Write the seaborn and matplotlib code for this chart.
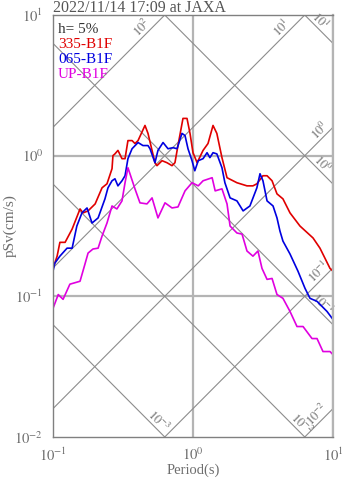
import numpy as np
import pandas as pd
import matplotlib
matplotlib.use("Agg")
import matplotlib.pyplot as plt
import seaborn as sns
from matplotlib.ticker import LogLocator, FixedLocator, NullFormatter

# ---- pseudo-velocity response spectra (h = 5%) ----
period_335 = [0.100, 0.107, 0.112, 0.122, 0.137, 0.156, 0.164, 0.178, 0.200, 0.224,
              0.243, 0.264, 0.268, 0.277, 0.291, 0.311, 0.327, 0.343, 0.367, 0.385,
              0.405, 0.454, 0.477, 0.535, 0.553, 0.601, 0.652, 0.708, 0.743, 0.781,
              0.848, 0.906, 0.952, 1.00, 1.07, 1.18, 1.28, 1.39, 1.48, 1.61,
              1.75, 2.06, 2.43, 2.68, 2.86, 3.16, 3.38, 3.67, 3.98, 4.39,
              4.93, 5.81, 7.20, 8.07, 9.52, 10.0]
sv_335 = [0.158, 0.193, 0.242, 0.242, 0.301, 0.418, 0.392, 0.405, 0.454, 0.591,
          0.631, 0.808, 1.00, 1.03, 1.09, 0.952, 0.952, 1.28, 1.28, 1.22,
          1.28, 1.64, 1.44, 0.891, 0.849, 0.921, 0.891, 0.849, 0.891, 1.18,
          1.84, 1.84, 1.44, 1.05, 0.891, 1.09, 1.22, 1.64, 1.44, 0.968,
          0.697, 0.642, 0.610, 0.610, 0.631, 0.720, 0.720, 0.663, 0.535, 0.493,
          0.392, 0.316, 0.260, 0.220, 0.158, 0.151]

period_065 = [0.100, 0.103, 0.112, 0.126, 0.137, 0.148, 0.161, 0.175, 0.190, 0.210,
              0.235, 0.247, 0.264, 0.277, 0.291, 0.311, 0.327, 0.343, 0.367, 0.405,
              0.439, 0.477, 0.493, 0.535, 0.562, 0.611, 0.663, 0.720, 0.769, 0.834,
              0.877, 0.921, 0.984, 1.03, 1.09, 1.18, 1.26, 1.32, 1.39, 1.48,
              1.61, 1.69, 1.84, 2.06, 2.28, 2.55, 2.86, 3.01, 3.16, 3.38,
              3.73, 3.98, 4.18, 4.39, 4.93, 5.62, 6.31, 6.85, 7.69, 9.06, 10.0]
sv_065 = [0.151, 0.172, 0.193, 0.220, 0.220, 0.316, 0.392, 0.425, 0.332, 0.361,
          0.493, 0.591, 0.663, 0.685, 0.610, 0.663, 0.720, 0.952, 1.12, 1.24,
          1.18, 1.18, 1.12, 0.891, 1.09, 1.24, 1.12, 1.14, 1.12, 1.44,
          1.39, 1.12, 0.921, 0.781, 0.921, 0.952, 1.05, 0.968, 1.05, 1.03,
          0.821, 0.642, 0.501, 0.477, 0.405, 0.439, 0.591, 0.744, 0.663, 0.477,
          0.439, 0.361, 0.291, 0.247, 0.200, 0.151, 0.114, 0.0968, 0.0921, 0.0781, 0.0685]

period_up = [0.100, 0.109, 0.118, 0.132, 0.156, 0.169, 0.178, 0.193, 0.210, 0.224,
             0.243, 0.264, 0.286, 0.311, 0.327, 0.343, 0.385, 0.418, 0.469, 0.510,
             0.562, 0.631, 0.708, 0.781, 0.877, 0.984, 1.09, 1.18, 1.37, 1.44,
             1.61, 1.75, 1.84, 2.06, 2.24, 2.43, 2.68, 2.91, 3.11, 3.38,
             3.67, 3.98, 4.39, 4.93, 5.53, 6.11, 7.08, 7.69, 8.48, 9.52, 10.0]
sv_up = [0.0821, 0.103, 0.0952, 0.122, 0.128, 0.169, 0.203, 0.217, 0.220, 0.268,
         0.332, 0.439, 0.418, 0.477, 0.642, 0.821, 0.581, 0.462, 0.454, 0.501,
         0.361, 0.462, 0.425, 0.432, 0.562, 0.642, 0.610, 0.663, 0.697, 0.562,
         0.581, 0.454, 0.316, 0.282, 0.277, 0.210, 0.193, 0.210, 0.158, 0.132,
         0.134, 0.103, 0.0968, 0.0781, 0.0610, 0.0610, 0.0501, 0.0501, 0.0405, 0.0405, 0.0385]

series_names = ["335-B1F", "065-B1F", "UP-B1F"]
series_colors = ["#e00000", "#0000e0", "#e000e0"]

# tripartite guide lines: acceleration (cm/s^2) and displacement (cm)
accel_levels = [1e2, 1e1, 1e0, 1e-1, 1e-2]
accel_label_period = [0.469, 4.69, 8.77, 8.62, 8.34]
disp_levels = [1e1, 1e0, 1e-1, 1e-2, 1e-3]
disp_label_period = [7.43, 7.81, 7.69, 5.53, 0.526]

title_text = "2022/11/14 17:09 at JAXA"
damping_text = "h= 5%"

frames = []
for name, per, sv in [(series_names[0], period_335, sv_335),
                      (series_names[1], period_065, sv_065),
                      (series_names[2], period_up, sv_up)]:
    frames.append(pd.DataFrame({"period": per, "psv": sv, "comp": name}))
df = pd.concat(frames, ignore_index=True)

sns.set_style("white")
plt.rcParams["font.family"] = ["Liberation Serif", "DejaVu Serif"]
plt.rcParams["mathtext.fontset"] = "stix"

fig = plt.figure(figsize=(3.47, 4.78), dpi=100)
ax = fig.add_axes([53 / 347, 1 - 437 / 478, 280 / 347, 422 / 478])
ax.set_xscale("log")
ax.set_yscale("log")
ax.set_xlim(0.1, 10)
ax.set_ylim(0.01, 10)

frame_gray = "#808080"
grid_gray = "#b4b4b4"
diag_gray = "#8c8c8c"
text_gray = "#6e6e6e"

# decade grid
for v in [1.0, 10.0]:
    ax.axvline(v, color=grid_gray, lw=1.6, zorder=1)
for v in [1.0, 0.1]:
    ax.axhline(v, color=grid_gray, lw=1.6, zorder=1)

# diagonal guide lines
tt = np.logspace(-1.2, 1.2, 200)
for a, tl in zip(accel_levels, accel_label_period):
    ax.plot(tt, a * tt / (2 * np.pi), color=diag_gray, lw=0.8, zorder=2)
    ax.annotate(f"$10^{{{int(np.log10(a))}}}$", xy=(tl, a * tl / (2 * np.pi)),
                xytext=(-3.4, 3.4), textcoords="offset points",
                ha="center", va="center", rotation=45, rotation_mode="anchor",
                fontsize=9, color=text_gray, zorder=3)
for d, tl in zip(disp_levels, disp_label_period):
    ax.plot(tt, 2 * np.pi * d / tt, color=diag_gray, lw=0.8, zorder=2)
    ax.annotate(f"$10^{{{int(np.log10(d))}}}$", xy=(tl, 2 * np.pi * d / tl),
                xytext=(3.4, 3.4), textcoords="offset points",
                ha="center", va="center", rotation=-45, rotation_mode="anchor",
                fontsize=9, color=text_gray, zorder=3)

# spectra
sns.lineplot(data=df, x="period", y="psv", hue="comp", hue_order=series_names,
             palette=series_colors, estimator=None, sort=False, lw=1.2,
             legend=False, ax=ax, zorder=4)

ax.set_xlim(0.1, 10)
ax.set_ylim(0.01, 10)

# ticks
ax.xaxis.set_major_locator(FixedLocator([0.1, 1, 10]))
ax.yaxis.set_major_locator(FixedLocator([0.01, 0.1, 1, 10]))
ax.xaxis.set_minor_locator(LogLocator(base=10, subs=np.arange(2, 10)))
ax.yaxis.set_minor_locator(LogLocator(base=10, subs=np.arange(2, 10)))
ax.xaxis.set_minor_formatter(NullFormatter())
ax.yaxis.set_minor_formatter(NullFormatter())
ax.set_xticklabels(["$10^{-1}$", "$10^{0}$", "$10^{1}$"])
ax.set_yticklabels(["$10^{-2}$", "$10^{-1}$", "$10^{0}$", "$10^{1}$"])
ax.tick_params(which="major", direction="out", length=6, width=0.9,
               colors=frame_gray, labelcolor=text_gray, labelsize=10.5, pad=1)
ax.tick_params(which="minor", direction="out", length=3.5, width=0.8,
               colors=frame_gray)
ax.tick_params(top=False, right=False)

for side, sp in ax.spines.items():
    sp.set_color(frame_gray)
    sp.set_linewidth(1.0)
    sp.set_zorder(5)
ax.spines["right"].set_color(grid_gray)
ax.spines["right"].set_linewidth(1.6)

ax.set_xlabel("Period(s)", fontsize=10.5, color=text_gray)
ax.set_ylabel("pSv(cm/s)", fontsize=11, color=text_gray)
ax.xaxis.set_label_coords(0.5, (437 - 470) / 422)
ax.yaxis.set_label_coords((10 - 53) / 280, 0.5)
ax.xaxis.label.set_va("center")
ax.yaxis.label.set_va("center")

fig.text(53 / 347, 1 - 7.5 / 478, title_text, ha="left", va="center",
         fontsize=11.5, color="#555555")

legend_texts = [damping_text] + series_names
legend_colors = ["#333333"] + series_colors
for i, (t, c) in enumerate(zip(legend_texts, legend_colors)):
    ax.text(0.018, 0.982 - i * 0.036, t, transform=ax.transAxes,
            ha="left", va="top", fontsize=11, color=c, zorder=6)

fig.savefig("out.png", dpi=100)
